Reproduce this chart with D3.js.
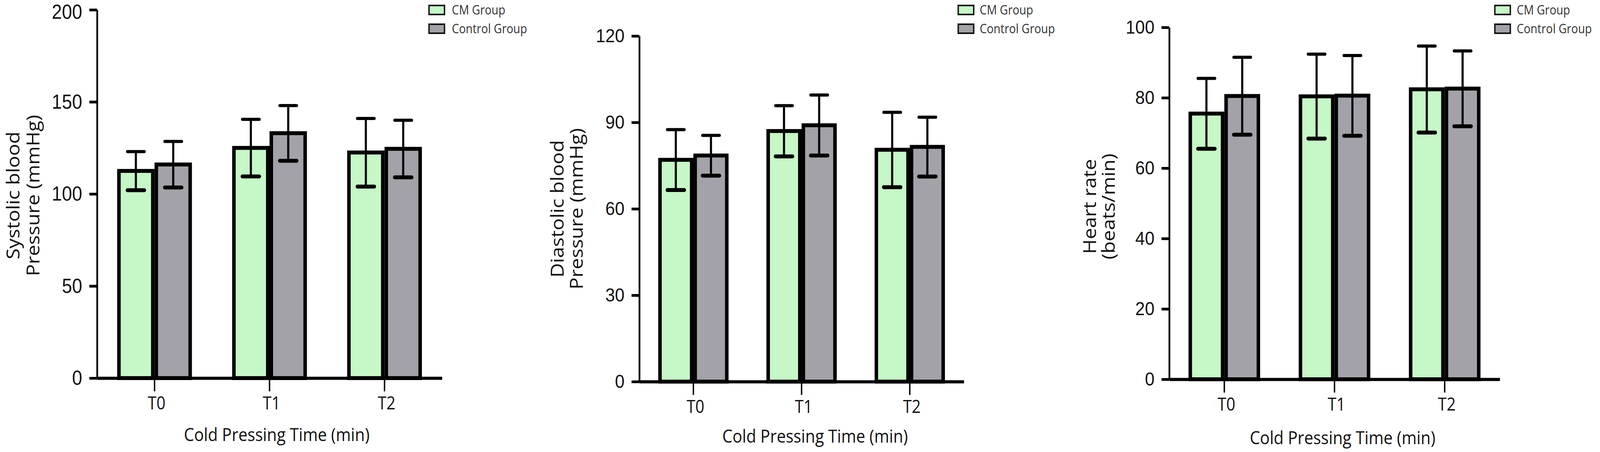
<!DOCTYPE html>
<html>
<head>
<meta charset="utf-8">
<script src="https://cdn.jsdelivr.net/npm/d3@7"></script>
<style>
  html, body { margin: 0; padding: 0; background: #ffffff; overflow: hidden; width: 100%; height: 100%; }
  svg { display: block; width: 100vw; height: 100vh; }
</style>
</head>
<body>
<svg id="chart" viewBox="0 0 4550 1156" preserveAspectRatio="none"></svg>
<script>
// ---------------- DATA ----------------
const categories = ["T0", "T1", "T2"];
const groups = ["CM Group", "Control Group"];

const sbpCM      = [112.5, 125.0, 122.5];
const sbpCMsd    = [10.5, 15.5, 18.5];
const sbpCtrl    = [116.0, 133.0, 124.5];
const sbpCtrlSd  = [12.5, 15.0, 15.5];

const dbpCM      = [77.0, 87.0, 80.5];
const dbpCMsd    = [10.5, 8.8, 13.0];
const dbpCtrl    = [78.5, 89.0, 81.5];
const dbpCtrlSd  = [7.0, 10.5, 10.3];

const hrCM       = [75.5, 80.4, 82.4];
const hrCMsd     = [10.0, 12.0, 12.3];
const hrCtrl     = [80.5, 80.6, 82.6];
const hrCtrlSd   = [11.0, 11.4, 10.7];

const sbpTicks = [0, 50, 100, 150, 200];
const dbpTicks = [0, 30, 60, 90, 120];
const hrTicks  = [0, 20, 40, 60, 80, 100];

const sbpTitle = ["Systolic blood", "Pressure (mmHg)"];
const dbpTitle = ["Diastolic blood", "Pressure (mmHg)"];
const hrTitle  = ["Heart rate", "(beats/min)"];
const xTitle = "Cold Pressing Time (min)";

// ---------------- LAYOUT / STYLE ----------------
const colors = { "CM Group": "#c6f7c6", "Control Group": "#a3a2a8" };

const panels = [
  { cm: sbpCM, cmSd: sbpCMsd, ctrl: sbpCtrl, ctrlSd: sbpCtrlSd, ticks: sbpTicks, title: sbpTitle,
    x0: 276, x1: 1257, yTop: 25, yBot: 967, tickFont: 52,
    yTitleX: [55, 112], yTitleShift: 4, xTitleX: 787, xTitleY: 1128,
    legX: 1220, legTextX: 1285 },
  { cm: dbpCM, cmSd: dbpCMsd, ctrl: dbpCtrl, ctrlSd: dbpCtrlSd, ticks: dbpTicks, title: dbpTitle,
    x0: 1818, x1: 2741, yTop: 92, yBot: 976, tickFont: 49,
    yTitleX: [1603, 1657], yTitleShift: 0, xTitleX: 2318, xTitleY: 1132,
    legX: 2725, legTextX: 2786 },
  { cm: hrCM, cmSd: hrCMsd, ctrl: hrCtrl, ctrlSd: hrCtrlSd, ticks: hrTicks, title: hrTitle,
    x0: 3325, x1: 4265, yTop: 70, yBot: 970, tickFont: 49,
    yTitleX: [3117, 3170], yTitleShift: 8, xTitleX: 3818, xTitleY: 1136,
    legX: 4251, legTextX: 4313 }
];

const svg = d3.select("#chart");
svg.append("rect").attr("x", 0).attr("y", 0).attr("width", 4550).attr("height", 1156).attr("fill", "#fff");
const barStroke = 10;

panels.forEach(p => {
  const g = svg.append("g");
  const yMax = p.ticks[p.ticks.length - 1];
  const y = d3.scaleLinear().domain([0, yMax]).range([p.yBot, p.yTop]);
  const x = d3.scaleBand().domain(categories).range([p.x0, p.x1])
              .paddingInner(0.35).paddingOuter(0.175);
  const xSub = d3.scaleBand().domain(groups).range([0, x.bandwidth()]);

  const rows = [];
  categories.forEach((c, i) => {
    rows.push({ c, grp: "CM Group", v: p.cm[i], sd: p.cmSd[i] });
    rows.push({ c, grp: "Control Group", v: p.ctrl[i], sd: p.ctrlSd[i] });
  });

  // bars
  g.selectAll("rect.bar").data(rows).join("rect")
    .attr("class", "bar")
    .attr("x", d => x(d.c) + xSub(d.grp) + barStroke / 2)
    .attr("width", xSub.bandwidth() - barStroke)
    .attr("y", d => y(d.v))
    .attr("height", d => y(0) - y(d.v))
    .attr("fill", d => colors[d.grp])
    .attr("stroke", "#000")
    .attr("stroke-width", barStroke);

  // error bars
  const cx = d => x(d.c) + xSub(d.grp) + xSub.bandwidth() / 2;
  const capW = 48;
  g.selectAll("line.whisker").data(rows).join("line")
    .attr("x1", cx).attr("x2", cx)
    .attr("y1", d => y(d.v + d.sd)).attr("y2", d => y(d.v - d.sd))
    .attr("stroke", "#000").attr("stroke-width", 6);
  g.selectAll("line.capTop").data(rows).join("line")
    .attr("x1", d => cx(d) - capW / 2).attr("x2", d => cx(d) + capW / 2)
    .attr("y1", d => y(d.v + d.sd)).attr("y2", d => y(d.v + d.sd))
    .attr("stroke", "#000").attr("stroke-width", 8).attr("stroke-linecap", "round");
  g.selectAll("line.capBot").data(rows).join("line")
    .attr("x1", d => cx(d) - capW / 2).attr("x2", d => cx(d) + capW / 2)
    .attr("y1", d => y(d.v - d.sd)).attr("y2", d => y(d.v - d.sd))
    .attr("stroke", "#000").attr("stroke-width", 10).attr("stroke-linecap", "round");

  // y axis
  const yAxis = d3.axisLeft(y).tickValues(p.ticks).tickSize(22).tickSizeOuter(0).tickPadding(20)
                  .tickFormat(d3.format("d"));
  const ga = g.append("g").attr("transform", `translate(${p.x0},0)`).call(yAxis);
  ga.select(".domain").attr("stroke", "#000").attr("stroke-width", 5);
  ga.selectAll(".tick line").attr("stroke", "#000").attr("stroke-width", 7);
  ga.selectAll(".tick text").attr("fill", "#111")
    .style("font-family", "'Liberation Sans', Arial, sans-serif")
    .style("font-size", p.tickFont + "px");
  // keep the top-most label inside the picture
  ga.selectAll(".tick text").each(function () {
    const node = this;
    const b = node.getBBox();
    const m = node.parentNode.transform.baseVal.consolidate();
    const ty = m ? m.matrix.f : 0;
    if (ty + b.y < 1) d3.select(node).attr("y", (+node.getAttribute("y") || 0) + (1 - (ty + b.y)));
  });

  // x axis
  const xAxis = d3.axisBottom(x).tickSize(34).tickSizeOuter(0).tickPadding(14);
  const gx = g.append("g").attr("transform", `translate(0,${p.yBot})`).call(xAxis);
  gx.select(".domain").attr("stroke", "#000").attr("stroke-width", 8);
  gx.selectAll(".tick line").attr("stroke", "#000").attr("stroke-width", 4);
  gx.selectAll(".tick text").attr("fill", "#111").attr("dx", 6)
    .style("font-family", "'Open Sans', sans-serif")
    .style("font-size", "45px");

  // y title (two lines, rotated)
  const yMid = (p.yTop + p.yBot) / 2 + p.yTitleShift;
  p.title.forEach((t, i) => {
    g.append("text")
      .attr("transform", `translate(${p.yTitleX[i]},${yMid}) rotate(-90)`)
      .attr("text-anchor", "middle")
      .attr("fill", "#111")
      .style("font-family", "'Open Sans', sans-serif")
      .style("font-size", "51px")
      .text(t);
  });

  // x title
  g.append("text")
    .attr("x", p.xTitleX).attr("y", p.xTitleY)
    .attr("text-anchor", "middle")
    .attr("fill", "#111")
    .style("font-family", "'Open Sans', sans-serif")
    .style("font-size", "46px")
    .text(xTitle);

  // legend
  const leg = g.append("g");
  groups.forEach((grp, i) => {
    leg.append("rect")
      .attr("x", p.legX).attr("y", 14 + i * 48)
      .attr("width", 44).attr("height", 23)
      .attr("fill", colors[grp]).attr("stroke", "#111").attr("stroke-width", 4);
    leg.append("text")
      .attr("x", p.legTextX).attr("y", 37 + i * 48)
      .attr("fill", "#333")
      .style("font-family", "'Open Sans', sans-serif")
      .style("font-size", "32px")
      .text(grp);
  });
});
</script>
</body>
</html>
